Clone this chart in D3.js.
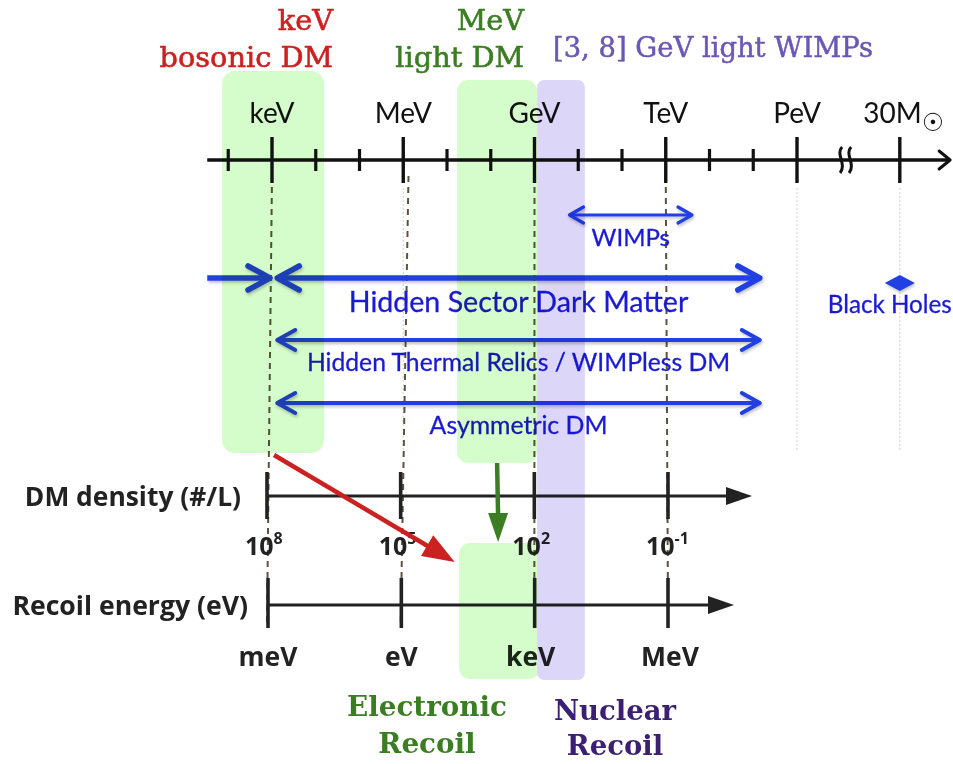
<!DOCTYPE html>
<html><head><meta charset="utf-8">
<script src="https://cdn.jsdelivr.net/npm/d3@7"></script>
<style>body{margin:0;background:#fff}svg{display:block}</style>
</head><body>
<svg id="c" width="953" height="764"></svg>
<script>
// ---------------- data ----------------
// top mass axis, values are log10(mass / eV)
const massMajorLabels = ["keV", "MeV", "GeV", "TeV", "PeV"];
const massMajorLog    = [3, 6, 9, 12, 15];
const massMinorLog    = [2, 4, 5, 7, 8, 10, 11, 13, 14];
const solarLabel      = "30M";
const solarLog        = 17.35;   // drawn position after the axis break
const breakLog        = 16.1;
const axisStartLog    = 1.52;
const axisEndLog      = 18.5;

// dark-matter candidate ranges (log10 eV)
const rangeNames = ["WIMPs", "Hidden Sector Dark Matter", "Hidden Thermal Relics / WIMPless DM", "Asymmetric DM"];
const rangeFrom  = [9.8, 3.12, 3.12, 3.12];
const rangeTo    = [12.6, 14.15, 14.15, 14.15];
const hiddenLeftFrom = 1.52;     // arrow coming from the left into keV
const blackHoleLog   = 17.35;
const blackHoleLabel = "Black Holes";

// highlighted regions on the mass axis
const regionTitles = [["keV", "bosonic DM"], ["MeV", "light DM"], ["[3, 8] GeV light WIMPs"]];
const regionFrom   = [1.86, 7.23, 9.06];
const regionTo     = [4.19, 9.06, 10.15];

// bottom axes
const densityExp    = ["8", "5", "2", "-1"];
const densityLog    = [8, 5, 2, -1];
const recoilLabels  = ["meV", "eV", "keV", "MeV"];
const recoilLog     = [-3, 0, 3, 6];
const electronicFrom = 1.3, electronicTo = 3.12;   // recoil log10 eV
const recoilTitles  = [["Electronic", "Recoil"], ["Nuclear", "Recoil"]];

// ---------------- scales ----------------
const svg = d3.select("#c");
const xMass = d3.scaleLinear().domain([3, 15]).range([272, 797]);
const xDens = d3.scaleLinear().domain([8, -1]).range([267, 668]);
const xRec  = d3.scaleLinear().domain([-3, 6]).range([268, 668]);

const Y_TOP = 160, Y_DENS = 496, Y_REC = 605;
const BLUE = "#2340e2", BLUE_TXT = "#1a1ad4";
const RED = "#cc2121", GREEN = "#3b7d23", PURPLE = "#6a58b4", DPURPLE = "#3a1f72";
const GBOX = "#d5fccb", PBOX = "#dcd6f8";

const defs = svg.append("defs");
const f = defs.append("filter").attr("id","sh").attr("x","-5%").attr("y","-50%").attr("width","110%").attr("height","200%");
f.append("feDropShadow").attr("dx",1).attr("dy",2).attr("stdDeviation",1.5).attr("flood-color","#000").attr("flood-opacity",0.25);

// ---------------- faint guide lines ----------------
const gGuide = svg.append("g");
gGuide.selectAll("line.dot").data([6, 15, solarLog]).join("line")
  .attr("x1", d => xMass(d)).attr("x2", d => xMass(d))
  .attr("y1", 188).attr("y2", 450)
  .attr("stroke", "#d8d8d8").attr("stroke-width", 1.2).attr("stroke-dasharray", "2,2");

// dashed connectors from mass axis to bottom axes
const links = [{m: 3, d: 8, y2: 624}, {m: 6.12, d: 5, y2: 626}, {m: 9, d: 2, y2: 626}, {m: 12, d: -1, y2: 612}];
gGuide.selectAll("line.dash").data(links).join("line")
  .attr("x1", d => xMass(d.m)).attr("x2", d => xDens(d.d))
  .attr("y1", 176).attr("y2", d => d.y2)
  .attr("stroke", "#5e523c").attr("stroke-width", 2).attr("stroke-dasharray", "6,5");

// ---------------- top axis ----------------
const gAx = svg.append("g").attr("stroke", "#111").attr("stroke-linecap", "butt");
gAx.append("line").attr("x1", xMass(axisStartLog)).attr("x2", xMass(axisEndLog) - 2)
  .attr("y1", Y_TOP).attr("y2", Y_TOP).attr("stroke-width", 3.5);
const tipX = xMass(axisEndLog);
gAx.append("path").attr("d", `M${tipX-11},${Y_TOP-9} L${tipX},${Y_TOP} L${tipX-11},${Y_TOP+9}`)
  .attr("fill", "none").attr("stroke-width", 3).attr("stroke-linecap", "round").attr("stroke-linejoin", "round");
gAx.selectAll("line.minor").data(massMinorLog).join("line")
  .attr("x1", d => xMass(d)).attr("x2", d => xMass(d)).attr("y1", Y_TOP - 11).attr("y2", Y_TOP + 11).attr("stroke-width", 3.2);
gAx.selectAll("line.major").data(massMajorLog.concat([solarLog])).join("line")
  .attr("x1", d => xMass(d)).attr("x2", d => xMass(d)).attr("y1", Y_TOP - 23).attr("y2", Y_TOP + 23).attr("stroke-width", 3.4);
// axis break
const bx = xMass(breakLog);
[-5, 4].forEach(o => {
  gAx.append("path").attr("d", `M${bx+o+2},${Y_TOP-13} C${bx+o-5},${Y_TOP-6} ${bx+o+7},${Y_TOP+4} ${bx+o},${Y_TOP+13}`)
    .attr("fill", "none").attr("stroke-width", 3);
});
const gLab = svg.append("g").attr("font-family", "Lato, 'Noto Sans', sans-serif").attr("font-size", 28).attr("fill", "#111").attr("text-anchor", "middle");
gLab.selectAll("text").data(massMajorLabels).join("text")
  .attr("x", (d, i) => xMass(massMajorLog[i])).attr("y", 123).text(d => d);
const sol = gLab.append("text").attr("x", xMass(solarLog) + 4).attr("y", 123);
sol.append("tspan").text(solarLabel);
sol.append("tspan").attr("font-family", "'DejaVu Sans'").attr("font-size", 25).attr("dy", 8).text("\u2609");

// ---------------- range arrows ----------------
function chevron(g, x, y, dir, back, half, w) {
  g.append("path").attr("d", `M${x - dir*back},${y-half} L${x},${y} L${x - dir*back},${y+half}`)
    .attr("fill", "none").attr("stroke", BLUE).attr("stroke-width", w)
    .attr("stroke-linecap", "round").attr("stroke-linejoin", "round");
}
const gR = svg.append("g").attr("filter", "url(#sh)");
const rangeY   = [215, 278, 340, 403];
const rangeW   = [3.2, 5.5, 4, 4];
const chevB    = [14, 22, 18, 18];
const chevH    = [8, 12, 10, 10];
rangeNames.forEach((n, i) => {
  const x1 = xMass(rangeFrom[i]), x2 = xMass(rangeTo[i]), y = rangeY[i];
  gR.append("line").attr("x1", x1 + 2).attr("x2", x2 - 2).attr("y1", y).attr("y2", y)
    .attr("stroke", BLUE).attr("stroke-width", rangeW[i]);
  chevron(gR, x1, y, -1, chevB[i], chevH[i], rangeW[i]);
  chevron(gR, x2, y, 1, chevB[i], chevH[i], rangeW[i]);
});
// left part of hidden sector arrow
gR.append("line").attr("x1", xMass(hiddenLeftFrom)).attr("x2", xMass(3) - 4).attr("y1", 278).attr("y2", 278)
  .attr("stroke", BLUE).attr("stroke-width", 5.5);
chevron(gR, xMass(3) - 2, 278, 1, 22, 12, 5.5);
// black hole diamond
const bhx = xMass(blackHoleLog);
gR.append("path").attr("d", `M${bhx-15},283 L${bhx},275 L${bhx+15},283 L${bhx},291 Z`).attr("fill", BLUE);

const gT = svg.append("g").attr("font-family", "Lato, 'Noto Sans', sans-serif").attr("fill", BLUE_TXT).attr("text-anchor", "middle")
  .attr("stroke", BLUE_TXT).attr("stroke-width", 0.3);
const labelY  = [246, 312, 371, 434];
const labelFS = [24, 28.6, 24.7, 24.8];
rangeNames.forEach((n, i) => {
  gT.append("text").attr("x", (xMass(rangeFrom[i]) + xMass(rangeTo[i])) / 2).attr("y", labelY[i])
    .attr("font-size", labelFS[i]).text(n);
});
gT.append("text").attr("x", bhx - 10).attr("y", 313).attr("font-size", 24.2).text(blackHoleLabel);

// ---------------- bottom axes ----------------
const gB = svg.append("g").attr("stroke", "#222");
// density axis
gB.append("line").attr("x1", xDens(8)).attr("x2", 728).attr("y1", Y_DENS).attr("y2", Y_DENS).attr("stroke-width", 3.2);
gB.append("path").attr("d", `M726,${Y_DENS-9} L752,${Y_DENS} L726,${Y_DENS+9} Z`).attr("fill", "#222").attr("stroke", "none");
gB.selectAll("line.dt").data(densityLog).join("line")
  .attr("x1", d => xDens(d)).attr("x2", d => xDens(d)).attr("y1", Y_DENS - 24).attr("y2", Y_DENS + 23).attr("stroke-width", 3.6);
// recoil axis
gB.append("line").attr("x1", xRec(-3)).attr("x2", 710).attr("y1", Y_REC).attr("y2", Y_REC).attr("stroke-width", 3.2);
gB.append("path").attr("d", `M708,${Y_REC-9} L734,${Y_REC} L708,${Y_REC+9} Z`).attr("fill", "#222").attr("stroke", "none");
gB.selectAll("line.rt").data(recoilLog).join("line")
  .attr("x1", d => xRec(d)).attr("x2", d => xRec(d)).attr("y1", Y_REC - 27).attr("y2", Y_REC + 23).attr("stroke-width", 3.6);

const gBL = svg.append("g").attr("font-family", "'Open Sans', 'Noto Sans', sans-serif").attr("font-weight", "bold").attr("fill", "#222");
gBL.append("text").attr("x", 241).attr("y", 506).attr("text-anchor", "end").attr("font-size", 26.4).text("DM density (#/L)");
gBL.append("text").attr("x", 248).attr("y", 615).attr("text-anchor", "end").attr("font-size", 26.6).text("Recoil energy (eV)");
densityExp.forEach((e, i) => {
  const t = gBL.append("text").attr("x", xDens(densityLog[i]) - 22).attr("y", 555).attr("font-size", 25);
  t.append("tspan").text("10");
  t.append("tspan").attr("font-size", 16).attr("dy", -11).text(e);
});
gBL.selectAll("text.rl").data(recoilLabels).join("text")
  .attr("x", (d, i) => xRec(recoilLog[i]) - (i === 2 ? 4 : 0) + (i === 3 ? 2 : 0)).attr("y", 666)
  .attr("text-anchor", "middle").attr("font-size", 26.5).text(d => d);

// ---------------- arrows from regions ----------------
const redStart = [xMass(3) + 2, 455], redEnd = [xRec(1.2), 562];
(function(){
  const [x1,y1] = redStart, [x2,y2] = redEnd;
  const a = Math.atan2(y2-y1, x2-x1), L = 32, Hh = 12;
  const bxp = x2 - L*Math.cos(a), byp = y2 - L*Math.sin(a);
  svg.append("line").attr("x1", x1).attr("y1", y1).attr("x2", bxp + 4*Math.cos(a)).attr("y2", byp + 4*Math.sin(a))
    .attr("stroke", RED).attr("stroke-width", 4.5);
  svg.append("path").attr("d", `M${x2},${y2} L${bxp - Hh*Math.sin(a)},${byp + Hh*Math.cos(a)} L${bxp + Hh*Math.sin(a)},${byp - Hh*Math.cos(a)} Z`)
    .attr("fill", RED);
})();
const gx = xMass((regionFrom[1] + regionTo[1]) / 2);
svg.append("line").attr("x1", gx).attr("y1", 463).attr("x2", gx + 1).attr("y2", 516).attr("stroke", GREEN).attr("stroke-width", 4.5);
svg.append("path").attr("d", `M${gx+1},542 L${gx-9},513 L${gx+11},513 Z`).attr("fill", GREEN);

// ---------------- highlight boxes (multiply over content) ----------------
const gBox = svg.append("g").style("mix-blend-mode", "multiply");
gBox.append("rect").attr("x", xMass(regionFrom[0])).attr("y", 71)
  .attr("width", xMass(regionTo[0]) - xMass(regionFrom[0])).attr("height", 382).attr("rx", 13).attr("fill", GBOX);
gBox.append("rect").attr("x", xMass(regionFrom[1])).attr("y", 80)
  .attr("width", xMass(regionTo[1]) - xMass(regionFrom[1])).attr("height", 383).attr("rx", 11).attr("fill", GBOX);
gBox.append("rect").attr("x", xRec(electronicFrom)).attr("y", 543)
  .attr("width", xRec(electronicTo) - xRec(electronicFrom)).attr("height", 136).attr("rx", 11).attr("fill", GBOX);
gBox.append("rect").attr("x", xMass(regionFrom[2])).attr("y", 80)
  .attr("width", xMass(regionTo[2]) - xMass(regionFrom[2])).attr("height", 600).attr("rx", 7).attr("fill", PBOX);

// ---------------- titles ----------------
const gS = svg.append("g").attr("font-family", "'DejaVu Serif', 'Liberation Serif', serif");
gS.selectAll("text.r").data(regionTitles[0]).join("text")
  .attr("x", 333).attr("y", (d, i) => 30 + i * 37).attr("text-anchor", "end")
  .attr("font-size", 28.8).attr("fill", RED).attr("stroke", RED).attr("stroke-width", 0.6).text(d => d);
gS.selectAll("text.g").data(regionTitles[1]).join("text")
  .attr("x", 524).attr("y", (d, i) => 30 + i * 37).attr("text-anchor", "end")
  .attr("font-size", 28.8).attr("fill", GREEN).attr("stroke", GREEN).attr("stroke-width", 0.6).text(d => d);
gS.append("text").attr("x", 553).attr("y", 57).attr("font-size", 27.4).attr("fill", PURPLE)
  .attr("stroke", PURPLE).attr("stroke-width", 0.5).text(regionTitles[2][0]);
gS.selectAll("text.e").data(recoilTitles[0]).join("text")
  .attr("x", 427).attr("y", (d, i) => 716 + i * 37).attr("text-anchor", "middle")
  .attr("font-size", 27.8).attr("font-weight", "bold").attr("fill", GREEN).text(d => d);
gS.selectAll("text.n").data(recoilTitles[1]).join("text")
  .attr("x", 615).attr("y", (d, i) => 720 + i * 35).attr("text-anchor", "middle")
  .attr("font-size", 27.5).attr("font-weight", "bold").attr("fill", DPURPLE).text(d => d);
</script>
</body></html>
